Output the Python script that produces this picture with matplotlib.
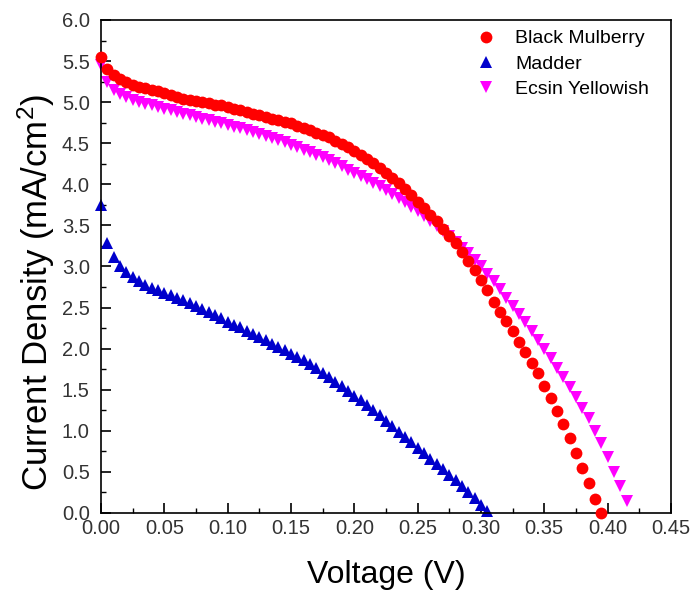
import numpy as np
from matplotlib import pyplot as plt
from matplotlib.ticker import MultipleLocator, FormatStrFormatter

plt.rcParams["font.family"] = "Liberation Sans"
plt.rcParams["mathtext.fontset"] = "custom"
plt.rcParams["mathtext.rm"] = "Liberation Sans"
plt.rcParams["mathtext.it"] = "Liberation Sans:italic"

# Black Mulberry, 0.000 .. 0.395 V in 0.005 V steps
mulberry_v = np.round(np.arange(0, 80) * 0.005, 3)
mulberry_j = [5.55, 5.40, 5.33, 5.28, 5.24, 5.21, 5.19, 5.17, 5.15, 5.13,
              5.11, 5.09, 5.06, 5.04, 5.03, 5.01, 5.00, 4.99, 4.97, 4.96,
              4.94, 4.92, 4.90, 4.88, 4.86, 4.84, 4.82, 4.80, 4.78, 4.76,
              4.74, 4.71, 4.68, 4.66, 4.63, 4.60, 4.57, 4.53, 4.49, 4.45,
              4.41, 4.36, 4.31, 4.26, 4.20, 4.14, 4.08, 4.01, 3.94, 3.87,
              3.79, 3.71, 3.63, 3.55, 3.46, 3.37, 3.28, 3.18, 3.07, 2.96,
              2.84, 2.71, 2.57, 2.45, 2.34, 2.21, 2.08, 1.96, 1.83, 1.70,
              1.55, 1.40, 1.24, 1.08, 0.91, 0.73, 0.55, 0.36, 0.17, 0.00]

# Madder, 0.000 .. 0.305 V
madder_v = np.round(np.arange(0, 62) * 0.005, 3)
madder_j = [3.75, 3.29, 3.11, 3.00, 2.93, 2.87, 2.82, 2.78, 2.74, 2.71,
            2.68, 2.65, 2.62, 2.59, 2.56, 2.52, 2.48, 2.45, 2.41, 2.37,
            2.33, 2.29, 2.26, 2.22, 2.18, 2.14, 2.10, 2.06, 2.02, 1.98,
            1.94, 1.90, 1.86, 1.81, 1.76, 1.70, 1.65, 1.59, 1.54, 1.48,
            1.42, 1.37, 1.31, 1.25, 1.19, 1.12, 1.06, 0.99, 0.93, 0.86,
            0.79, 0.73, 0.66, 0.59, 0.53, 0.46, 0.40, 0.33, 0.26, 0.18,
            0.10, 0.03]

# Ecsin Yellowish, 0.000 .. 0.415 V
ecsin_v = np.round(np.arange(0, 84) * 0.005, 3)
ecsin_j = [5.45, 5.25, 5.15, 5.10, 5.06, 5.03, 5.00, 4.98, 4.96, 4.94,
           4.92, 4.90, 4.88, 4.86, 4.84, 4.82, 4.80, 4.78, 4.76, 4.74,
           4.72, 4.70, 4.68, 4.66, 4.64, 4.61, 4.59, 4.56, 4.54, 4.51,
           4.48, 4.45, 4.42, 4.39, 4.36, 4.33, 4.30, 4.26, 4.22, 4.18,
           4.14, 4.10, 4.06, 4.02, 3.98, 3.93, 3.88, 3.83, 3.78, 3.72,
           3.67, 3.61, 3.55, 3.49, 3.43, 3.37, 3.30, 3.23, 3.16, 3.08,
           3.00, 2.91, 2.82, 2.72, 2.62, 2.52, 2.42, 2.32, 2.21, 2.10,
           1.99, 1.88, 1.77, 1.65, 1.53, 1.41, 1.28, 1.15, 1.00, 0.85,
           0.68, 0.50, 0.33, 0.15]

labels = ["Black Mulberry", "Madder", "Ecsin Yellowish"]

fig = plt.figure(figsize=(6.93, 5.94), dpi=100)
ax = fig.add_axes([0.1457, 0.1364, 0.8225, 0.83])

ax.plot(mulberry_v, mulberry_j, "o", color="#ff0000", ms=8.5, mew=0, label=labels[0], clip_on=False, zorder=3)
ax.plot(madder_v, madder_j, "^", color="#0000cc", ms=8.5, mew=0, label=labels[1], clip_on=False)
ax.plot(ecsin_v, ecsin_j, "v", color="#ff00ff", ms=8.5, mew=0, label=labels[2], clip_on=False)

ax.set_xlim(0, 0.45)
ax.set_ylim(0, 6.0)
ax.xaxis.set_major_locator(MultipleLocator(0.05))
ax.xaxis.set_minor_locator(MultipleLocator(0.025))
ax.yaxis.set_major_locator(MultipleLocator(0.5))
ax.yaxis.set_minor_locator(MultipleLocator(0.25))
ax.xaxis.set_major_formatter(FormatStrFormatter("%.2f"))
ax.yaxis.set_major_formatter(FormatStrFormatter("%.1f"))
ax.tick_params(which="major", direction="in", length=7, width=1.2, labelsize=14.5,
               labelcolor="#333333", top=False, right=False)
ax.tick_params(axis="x", which="major", pad=4)
ax.tick_params(axis="y", which="major", pad=8)
ax.tick_params(which="minor", direction="in", length=3.5, width=1.0, top=False, right=False)
for s in ax.spines.values():
    s.set_linewidth(1.2)

ax.set_xlabel("Voltage (V)", fontsize=23)
ax.set_ylabel("Current Density (mA/cm$^2$)", fontsize=25)
ax.xaxis.set_label_coords(0.5, -0.095)
ax.yaxis.set_label_coords(-0.077, 0.448)

ax.legend(loc="upper left", frameon=False, fontsize=14, handlelength=1.0, handletextpad=1.0,
          borderaxespad=0, labelspacing=0.4, bbox_to_anchor=(0.645, 0.996))

plt.savefig("out.png", dpi=100)
